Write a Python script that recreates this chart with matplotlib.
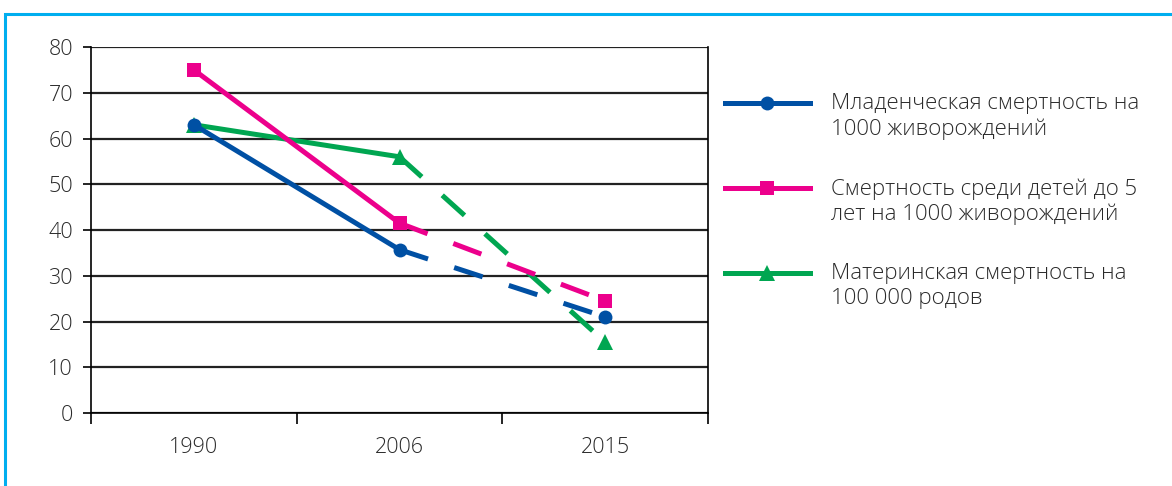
import matplotlib
matplotlib.use("Agg")
import matplotlib.pyplot as plt
from matplotlib.lines import Line2D
from matplotlib.patches import Rectangle

plt.rcParams['font.family'] = ['Open Sans', 'DejaVu Sans']
plt.rcParams['font.weight'] = 'light'

years = ['1990', '2006', '2015']
infant = [63, 35.7, 21]
under5 = [75, 41.5, 24.5]
maternal = [63, 56, 15.5]

labels = ['Младенческая смертность на\n1000 живорождений',
          'Смертность среди детей до 5\nлет на 1000 живорождений',
          'Материнская смертность на\n100 000 родов']
colors = ['#0050a4', '#ec008c', '#00a651']
markers = ['o', 's', '^']
msizes = [10, 9.5, 12]
series = [infant, under5, maternal]
zorders = [4, 5, 3]

fig = plt.figure(figsize=(11.72, 4.86), dpi=100)
ax = fig.add_axes([91 / 1172, 1 - 413 / 486, (708 - 91) / 1172, (413 - 47) / 486])

x = list(range(len(years)))
lw = 3.6
for vals, c, m, ms, z in zip(series, colors, markers, msizes, zorders):
    ax.plot(x[:2], vals[:2], color=c, lw=lw, solid_capstyle='butt', zorder=z)
    ax.plot(x[1:], vals[1:], color=c, lw=lw, linestyle=(0, (6, 5.5)),
            dash_capstyle='butt', zorder=z)
    ax.plot(x, vals, linestyle='none', marker=m, ms=ms, color=c,
            markeredgewidth=0, zorder=z + 0.5)

ax.set_xlim(-0.5, 2.5)
ax.set_ylim(0, 80)
ax.set_yticks(range(0, 81, 10))
ax.yaxis.grid(True, color='#222222', lw=1.6)
ax.set_axisbelow(True)

ax.set_xticks([-0.5, 0.5, 1.5, 2.5])
ax.set_xticklabels([])
ax.set_xticks(x, minor=True)
ax.set_xticklabels(years, minor=True)
ax.tick_params(axis='x', which='major', length=8, width=1.2, direction='out')
ax.tick_params(axis='x', which='minor', length=0, pad=17, labelsize=15.5, labelcolor='#2a2a2a')
ax.tick_params(axis='y', length=6, width=1.2, direction='out', pad=7,
               labelsize=15.5, labelcolor='#2a2a2a')
for s in ax.spines.values():
    s.set_color('black')
    s.set_linewidth(1.2)
ax.spines['top'].set_visible(False)

# legend drawn by hand so the sample sits on the first text line
leg_y = [103, 188, 273]
for lab, c, m, ms, ly in zip(labels, colors, markers, msizes, leg_y):
    yf = 1 - ly / 486
    fig.add_artist(Line2D([725 / 1172, 810 / 1172], [yf, yf], color=c, lw=lw,
                          transform=fig.transFigure))
    fig.add_artist(Line2D([767 / 1172], [yf], marker=m, ms=ms, color=c,
                          markeredgewidth=0, transform=fig.transFigure))
    fig.text(831 / 1172, yf + 10 / 486, lab, fontsize=16, color='#2a2a2a',
             va='top', ha='left', linespacing=1.26)

# light blue frame around the figure panel
fig.add_artist(Rectangle((5 / 1172, -0.1), 1.2, 1 - 14 / 486 + 0.1, fill=False,
                         edgecolor='#00aeef', lw=2.2, transform=fig.transFigure))

fig.savefig('out.png', dpi=100)
